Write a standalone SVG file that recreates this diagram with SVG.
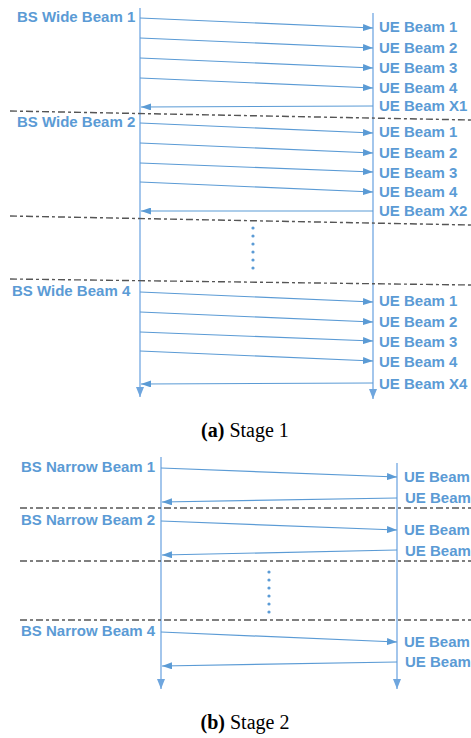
<svg xmlns="http://www.w3.org/2000/svg" width="471" height="738" viewBox="0 0 471 738">
<style>
.lbl{font-family:"Liberation Sans",Arial,sans-serif;font-weight:bold;font-size:15px;fill:#5B9BD5}
.cap{font-family:"Liberation Serif","Times New Roman",serif;font-size:20px;fill:#000}
.msg{stroke:#5B9BD5;stroke-width:1.2;fill:none;marker-end:url(#ah)}
.ret{stroke:#5B9BD5;stroke-width:1.2;fill:none;marker-end:url(#ah)}
.life{stroke:#8DB8E8;stroke-width:1.6;fill:none;marker-end:url(#va)}
.sep{stroke:#555;stroke-width:1.4;fill:none;stroke-dasharray:7 3 3 3}
.dot{fill:#5B9BD5}
</style>
<defs>
<marker id="ah" viewBox="0 0 10 7" refX="10" refY="3.5" markerWidth="10" markerHeight="7" markerUnits="userSpaceOnUse" orient="auto">
<path d="M0,0 L10,3.5 L0,7 z" fill="#5B9BD5"/>
</marker>
<marker id="va" viewBox="0 0 10 8" refX="10" refY="4" markerWidth="10" markerHeight="8" markerUnits="userSpaceOnUse" orient="auto">
<path d="M0,0 L10,4 L0,8 z" fill="#6FA6DE"/>
</marker>
</defs>

<g id="stage1">
<g id="s1-bs-lifeline"><line class="life" x1="140" y1="8" x2="140" y2="397"/></g>
<g id="s1-ue-lifeline"><line class="life" x1="373" y1="13" x2="373" y2="399"/></g>

<g id="s1-separators">
<line class="sep" x1="10" y1="111" x2="471" y2="120"/>
<line class="sep" x1="10" y1="216" x2="471" y2="225"/>
<line class="sep" x1="10" y1="279" x2="471" y2="285"/>
</g>

<g id="s1-connectors">
<line class="msg" x1="140" y1="18" x2="373" y2="28"/>
<line class="msg" x1="140" y1="38" x2="373" y2="48"/>
<line class="msg" x1="140" y1="58" x2="373" y2="68"/>
<line class="msg" x1="140" y1="78" x2="373" y2="88"/>
<line class="ret" x1="373" y1="106" x2="141" y2="107"/>
<line class="msg" x1="140" y1="123" x2="373" y2="133"/>
<line class="msg" x1="140" y1="143" x2="373" y2="153"/>
<line class="msg" x1="140" y1="163" x2="373" y2="172"/>
<line class="msg" x1="140" y1="182" x2="373" y2="192"/>
<line class="ret" x1="373" y1="211" x2="141" y2="211"/>
<line class="msg" x1="140" y1="292" x2="373" y2="302"/>
<line class="msg" x1="140" y1="312" x2="373" y2="322"/>
<line class="msg" x1="140" y1="332" x2="373" y2="341"/>
<line class="msg" x1="140" y1="351" x2="373" y2="361"/>
<line class="ret" x1="373" y1="383" x2="141" y2="384"/>
</g>

<g id="s1-bs-labels">
<text class="lbl" x="17" y="22">BS Wide Beam 1</text>
<text class="lbl" x="17" y="127">BS Wide Beam 2</text>
<text class="lbl" x="12" y="296">BS Wide Beam 4</text>
</g>
<g id="s1-ue-labels">
<text class="lbl" x="379" y="32">UE Beam 1</text>
<text class="lbl" x="379" y="53">UE Beam 2</text>
<text class="lbl" x="379" y="73">UE Beam 3</text>
<text class="lbl" x="379" y="93">UE Beam 4</text>
<text class="lbl" x="379" y="111">UE Beam X1</text>
<text class="lbl" x="379" y="137">UE Beam 1</text>
<text class="lbl" x="379" y="158">UE Beam 2</text>
<text class="lbl" x="379" y="178">UE Beam 3</text>
<text class="lbl" x="379" y="197">UE Beam 4</text>
<text class="lbl" x="379" y="216">UE Beam X2</text>
<text class="lbl" x="379" y="306">UE Beam 1</text>
<text class="lbl" x="379" y="327">UE Beam 2</text>
<text class="lbl" x="379" y="347">UE Beam 3</text>
<text class="lbl" x="379" y="367">UE Beam 4</text>
<text class="lbl" x="379" y="389">UE Beam X4</text>
</g>
<g id="s1-ellipsis">
<circle class="dot" cx="253" cy="228" r="1.6"/>
<circle class="dot" cx="253" cy="236" r="1.6"/>
<circle class="dot" cx="253" cy="244" r="1.6"/>
<circle class="dot" cx="253" cy="252" r="1.6"/>
<circle class="dot" cx="253" cy="260" r="1.6"/>
<circle class="dot" cx="253" cy="268" r="1.6"/>
</g>
<text class="cap" x="245" y="437" text-anchor="middle"><tspan font-weight="bold">(a)</tspan> Stage 1</text>
</g>

<g id="stage2">
<g id="s2-bs-lifeline"><line class="life" x1="161" y1="457" x2="161" y2="689"/></g>
<g id="s2-ue-lifeline"><line class="life" x1="397" y1="463" x2="397" y2="689"/></g>

<g id="s2-separators">
<line class="sep" x1="20" y1="508" x2="471" y2="508"/>
<line class="sep" x1="20" y1="561" x2="471" y2="561"/>
<line class="sep" x1="20" y1="620" x2="471" y2="620"/>
</g>

<g id="s2-connectors">
<line class="msg" x1="161" y1="468" x2="397" y2="477"/>
<line class="ret" x1="397" y1="498" x2="162" y2="502"/>
<line class="msg" x1="161" y1="521" x2="397" y2="530"/>
<line class="ret" x1="397" y1="550" x2="162" y2="555"/>
<line class="msg" x1="161" y1="632" x2="397" y2="642"/>
<line class="ret" x1="397" y1="662" x2="162" y2="666"/>
</g>

<g id="s2-bs-labels">
<text class="lbl" x="21" y="472">BS Narrow Beam 1</text>
<text class="lbl" x="21" y="525">BS Narrow Beam 2</text>
<text class="lbl" x="21" y="636">BS Narrow Beam 4</text>
</g>
<g id="s2-ue-labels">
<text class="lbl" x="404" y="482">UE Beam</text>
<text class="lbl" x="405" y="503">UE Beam</text>
<text class="lbl" x="404" y="535">UE Beam</text>
<text class="lbl" x="405" y="556">UE Beam</text>
<text class="lbl" x="404" y="647">UE Beam</text>
<text class="lbl" x="405" y="667">UE Beam</text>
</g>
<g id="s2-ellipsis">
<circle class="dot" cx="269" cy="572" r="1.6"/>
<circle class="dot" cx="269" cy="580" r="1.6"/>
<circle class="dot" cx="269" cy="588" r="1.6"/>
<circle class="dot" cx="269" cy="596" r="1.6"/>
<circle class="dot" cx="269" cy="604" r="1.6"/>
<circle class="dot" cx="269" cy="612" r="1.6"/>
</g>
<text class="cap" x="245" y="729" text-anchor="middle"><tspan font-weight="bold">(b)</tspan> Stage 2</text>
</g>
</svg>
